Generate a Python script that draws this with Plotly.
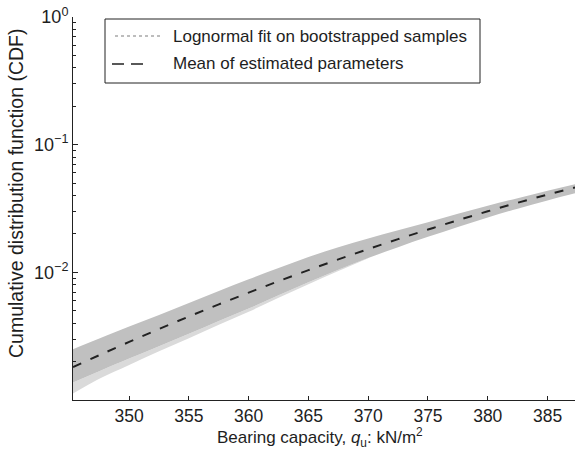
import plotly.graph_objects as go

# Bearing capacity grid (kN/m^2)
q_u = [345.3, 347.5, 350, 352.5, 355, 357.5, 360, 362.5, 365, 367.5,
       370, 372.5, 375, 377.5, 380, 382.5, 385, 387.3]

# CDF of the lognormal built from the mean of the estimated parameters
cdf_mean = [1.811e-3, 2.244e-3, 2.851e-3, 3.597e-3, 4.508e-3, 5.610e-3,
            6.934e-3, 8.531e-3, 1.040e-2, 1.262e-2, 1.521e-2, 1.820e-2,
            2.163e-2, 2.559e-2, 3.006e-2, 3.508e-2, 4.064e-2, 4.624e-2]

# Envelope of the lognormal fits on the bootstrapped samples
cdf_boot_upper = [2.500e-3, 3.027e-3, 3.758e-3, 4.634e-3, 5.741e-3, 7.145e-3,
                  8.831e-3, 1.080e-2, 1.318e-2, 1.570e-2, 1.840e-2, 2.135e-2,
                  2.472e-2, 2.871e-2, 3.319e-2, 3.811e-2, 4.355e-2, 4.898e-2]
cdf_boot_lower = [1.374e-3, 1.683e-3, 2.113e-3, 2.636e-3, 3.304e-3, 4.159e-3,
                  5.200e-3, 6.622e-3, 8.356e-3, 1.050e-2, 1.294e-2, 1.574e-2,
                  1.897e-2, 2.270e-2, 2.692e-2, 3.155e-2, 3.656e-2, 4.159e-2]
# A few sparse fits run a little lower on the left part of the range
cdf_boot_tail = [1.122e-3, 1.466e-3, 1.884e-3, 2.404e-3, 3.048e-3, 3.882e-3,
                 4.909e-3, 6.324e-3, 8.072e-3, 1.023e-2, 1.290e-2]

x_ticks = [350, 355, 360, 365, 370, 375, 380, 385]
y_ticks = [1e-2, 1e-1, 1]
y_tick_text = ["10<sup>\u22122</sup>", "10<sup>\u22121</sup>", "10<sup>0</sup>"]
y_minor = [m * 10 ** e for e in (-3, -2, -1) for m in range(2, 10)]

legend_labels = ["Lognormal fit on bootstrapped samples",
                 "Mean of estimated parameters"]

W, H = 576, 451
L, R, T, B = 73, 1, 17, 51
PW, PH = W - L - R, H - T - B
FONT = "Liberation Sans, Arial, Helvetica, sans-serif"
INK = "#1e1e1e"


def px(x):
    return (x - L) / PW


def py(y):
    return (H - B - y) / PH


fig = go.Figure()
n_tail = len(cdf_boot_tail)
fig.add_trace(go.Scatter(x=q_u[:n_tail], y=cdf_boot_tail, mode="lines",
                         line=dict(width=0, shape="spline"), hoverinfo="skip",
                         showlegend=False))
fig.add_trace(go.Scatter(x=q_u[:n_tail], y=cdf_boot_lower[:n_tail], mode="lines",
                         line=dict(width=0, shape="spline"), fill="tonexty",
                         fillcolor="#dadada", hoverinfo="skip", showlegend=False))
fig.add_trace(go.Scatter(x=q_u, y=cdf_boot_lower, mode="lines",
                         line=dict(width=0, shape="spline"), hoverinfo="skip",
                         showlegend=False))
fig.add_trace(go.Scatter(x=q_u, y=cdf_boot_upper, mode="lines",
                         line=dict(width=0, shape="spline"), fill="tonexty",
                         fillcolor="#c0c0c0", name=legend_labels[0],
                         showlegend=False))
fig.add_trace(go.Scatter(x=q_u, y=cdf_mean, mode="lines",
                         line=dict(color="#222222", width=2, dash="9px,10px",
                                   shape="spline"),
                         name=legend_labels[1], showlegend=False))

# Legend box drawn in pixel-aligned paper coordinates
shapes = [
    dict(type="rect", xref="paper", yref="paper", x0=px(105), x1=px(480),
         y0=py(83), y1=py(19), line=dict(color="#222222", width=1),
         fillcolor="white", layer="above"),
    dict(type="line", xref="paper", yref="paper", x0=px(115), x1=px(160),
         y0=py(36), y1=py(36), line=dict(color="#a8a8a8", width=1.5, dash="dot"),
         layer="above"),
    dict(type="line", xref="paper", yref="paper", x0=px(112), x1=px(144),
         y0=py(64), y1=py(64), line=dict(color="#222222", width=1.5,
                                         dash="12px,7px"), layer="above"),
]
annotations = [
    dict(text=legend_labels[0], xref="paper", yref="paper", x=px(171), y=py(36),
         xanchor="left", yanchor="middle", showarrow=False,
         font=dict(size=17, color=INK, family=FONT)),
    dict(text=legend_labels[1], xref="paper", yref="paper", x=px(171), y=py(64),
         xanchor="left", yanchor="middle", showarrow=False,
         font=dict(size=17, color=INK, family=FONT)),
    dict(text="Bearing capacity, <i>q</i><sub>u</sub>: kN/m<sup>2</sup>",
         xref="paper", yref="paper", x=px(320), y=py(437), xanchor="center",
         yanchor="middle", showarrow=False,
         font=dict(size=17, color=INK, family=FONT)),
    dict(text="Cumulative distribution function (CDF)", xref="paper",
         yref="paper", x=px(16), y=py(194), xanchor="center", yanchor="middle",
         textangle=-90, showarrow=False,
         font=dict(size=19.5, color=INK, family=FONT)),
]

fig.update_layout(
    width=W, height=H,
    margin=dict(l=L, r=R, t=T, b=B, pad=0),
    paper_bgcolor="white", plot_bgcolor="white",
    font=dict(family=FONT, size=17, color=INK),
    shapes=shapes, annotations=annotations,
    xaxis=dict(range=[345.3, 387.3], tickmode="array", tickvals=x_ticks,
               ticks="inside", ticklen=4, tickcolor="#222222",
               showline=True, linecolor="#222222", linewidth=1,
               showgrid=False, zeroline=False,
               tickfont=dict(size=17.5, color=INK)),
    yaxis=dict(type="log", range=[-3, 0], tickmode="array", tickvals=y_ticks,
               ticktext=y_tick_text, ticks="inside", ticklen=5,
               tickcolor="#222222", showline=True, linecolor="#222222",
               linewidth=1, showgrid=False, zeroline=False,
               tickfont=dict(size=18, color=INK),
               minor=dict(tickmode="array", tickvals=y_minor, ticks="inside",
                          ticklen=3, tickcolor="#222222", showgrid=False)),
)

fig.write_html("out.html")
